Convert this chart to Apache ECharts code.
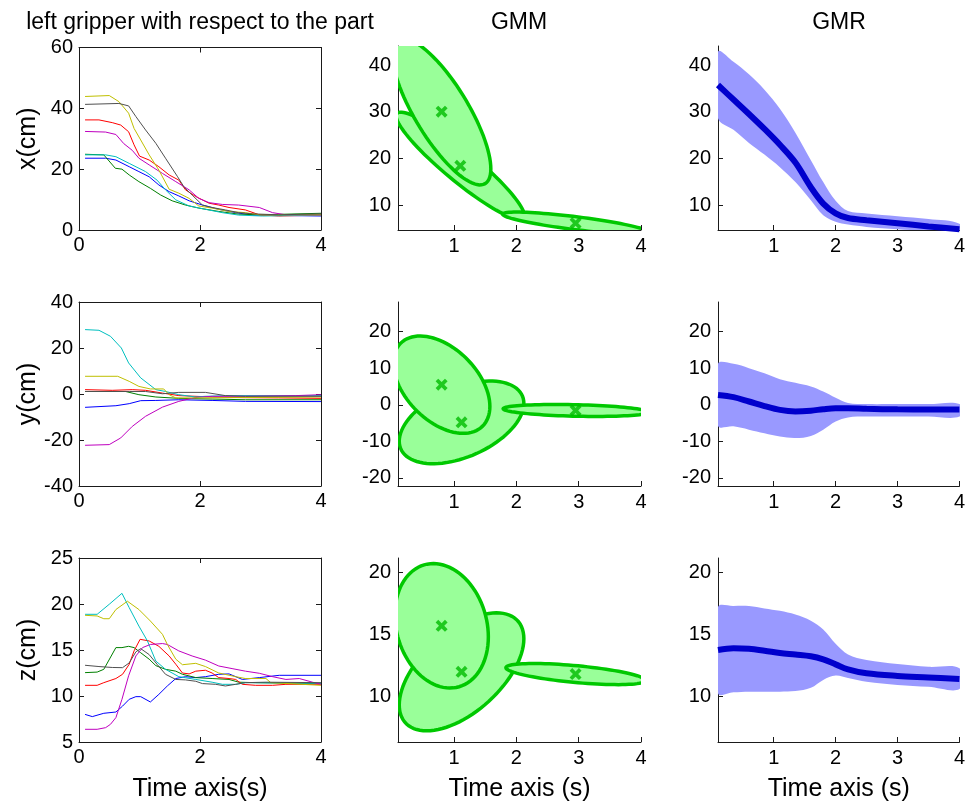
<!DOCTYPE html>
<html>
<head>
<meta charset="utf-8">
<script src="https://cdn.jsdelivr.net/npm/echarts@6/dist/echarts.min.js"></script>
<style>
html, body { margin: 0; padding: 0; background: #fff; }
#main { width: 968px; height: 810px; }
</style>
</head>
<body>
<div id="main"></div>
<script>
// ---- demonstrations (left column), [t, value] pairs ----
var xBlue = [[0.1,23.6],[0.44,23.6],[0.61,23.0],[0.83,20.8],[0.99,19.2],[1.16,17.5],[1.32,14.8],[1.49,12.6],[1.65,11.2],[1.82,9.6],[2.04,8.2],[2.31,6.8],[2.59,5.7],[2.87,4.9],[4.0,4.6]];
var xGreen = [[0.1,24.9],[0.41,24.7],[0.6,20.3],[0.71,20.0],[0.83,18.1],[0.99,15.9],[1.18,13.7],[1.35,11.5],[1.54,9.6],[1.76,8.2],[1.98,7.2],[2.31,6.1],[2.64,5.2],[3.03,5.0],[4.0,5.5]];
var xRed = [[0.1,36.2],[0.33,36.2],[0.55,35.3],[0.69,34.5],[0.82,32.3],[0.91,28.0],[1.0,24.3],[1.16,23.0],[1.32,20.8],[1.49,18.1],[1.65,16.4],[1.76,13.2],[1.93,11.0],[2.15,8.8],[2.31,8.2],[2.48,7.4],[2.75,6.6],[2.98,5.0],[3.3,4.6],[4.0,4.9]];
var xCyan = [[0.1,24.7],[0.44,24.7],[0.61,24.1],[0.83,21.9],[1.1,19.2],[1.29,16.4],[1.43,13.2],[1.6,9.9],[1.82,7.9],[2.09,6.8],[2.37,5.7],[2.64,4.9],[3.03,4.6],[4.0,4.9]];
var xMagenta = [[0.1,32.4],[0.44,32.2],[0.61,31.4],[0.74,28.4],[0.88,26.2],[0.99,23.6],[1.16,21.4],[1.38,18.6],[1.6,15.9],[1.82,13.2],[1.98,10.4],[2.15,9.0],[2.37,8.4],[2.64,8.2],[2.98,7.4],[3.2,5.7],[3.42,5.0],[4.0,5.0]];
var xYellow = [[0.1,43.9],[0.5,44.2],[0.66,42.2],[0.82,38.4],[0.91,33.4],[1.02,29.6],[1.16,24.7],[1.32,19.7],[1.49,13.4],[1.65,12.1],[1.82,10.4],[1.98,7.9],[2.2,7.2],[2.48,6.1],[2.75,5.7],[2.98,5.0],[4.0,5.0]];
var xBlack = [[0.1,41.3],[0.66,41.6],[0.82,40.8],[0.94,37.3],[1.1,32.9],[1.27,28.5],[1.43,23.6],[1.63,17.5],[1.74,14.0],[1.87,11.5],[2.04,8.2],[2.2,7.4],[2.42,6.6],[2.64,5.7],[2.87,5.3],[3.3,5.0],[4.0,5.3]];

var yBlue = [[0.1,-5.8],[0.61,-5.1],[0.83,-4.2],[1.02,-2.9],[1.27,-2.8],[1.65,-2.5],[2.2,-2.8],[2.75,-3.2],[4.0,-3.3]];
var yGreen = [[0.1,1.1],[0.77,1.1],[0.99,-0.3],[1.27,-1.3],[1.65,-1.9],[2.2,-2.2],[2.75,-2.5],[4.0,-2.5]];
var yRed = [[0.1,1.9],[0.55,1.6],[0.88,1.9],[1.1,1.6],[1.38,0.4],[1.65,-0.7],[2.2,-1.3],[2.75,-1.6],[3.3,-1.7],[4.0,-1.9]];
var yCyan = [[0.1,28.0],[0.33,27.7],[0.52,25.1],[0.7,20.0],[0.82,13.5],[1.02,7.0],[1.27,1.9],[1.43,1.1],[1.65,-0.3],[1.93,-1.3],[2.09,-1.0],[2.48,-0.7],[4.0,-0.7]];
var yMagenta = [[0.1,-22.3],[0.5,-22.0],[0.69,-19.1],[0.88,-14.1],[1.1,-9.7],[1.38,-5.7],[1.65,-3.2],[1.93,-1.5],[2.2,-1.0],[2.75,-1.0],[3.58,-0.7],[4.0,-0.3]];
var yYellow = [[0.1,7.7],[0.64,7.7],[0.83,5.5],[0.99,3.3],[1.18,2.2],[1.4,2.2],[1.49,-0.3],[1.6,-1.7],[1.93,-1.7],[4.0,-1.3]];
var yBlack = [[0.1,1.1],[0.83,1.1],[1.1,1.1],[1.38,0.1],[1.65,0.7],[2.09,0.7],[2.42,-0.7],[2.75,-1.0],[4.0,-1.0]];

var zBlue = [[0.1,8.0],[0.22,7.76],[0.41,8.12],[0.61,8.26],[0.72,8.9],[0.83,9.64],[0.94,9.93],[1.02,9.93],[1.18,9.35],[1.32,10.18],[1.46,11.09],[1.6,11.9],[1.76,12.1],[1.93,12.0],[2.09,12.1],[2.31,12.36],[2.48,12.4],[2.7,11.8],[2.98,12.0],[3.31,12.25],[4.0,12.25]];
var zGreen = [[0.1,12.54],[0.3,12.6],[0.41,12.9],[0.61,15.26],[0.71,15.26],[0.82,15.4],[0.91,15.26],[1.02,14.7],[1.16,14.0],[1.27,13.3],[1.43,12.9],[1.6,12.7],[1.71,12.36],[1.93,12.0],[2.2,11.9],[2.48,11.8],[2.64,11.5],[2.92,11.45],[4.0,11.35]];
var zRed = [[0.1,11.16],[0.3,11.16],[0.41,11.45],[0.61,11.9],[0.72,12.36],[0.83,13.45],[0.91,14.9],[1.01,16.16],[1.16,15.98],[1.32,15.4],[1.49,14.35],[1.6,13.45],[1.71,12.5],[1.82,12.4],[1.93,12.7],[2.09,12.8],[2.2,12.5],[2.31,12.0],[2.48,11.9],[2.59,11.8],[2.7,11.27],[2.92,11.16],[3.2,11.16],[3.42,11.27],[4.0,11.27]];
var zCyan = [[0.1,18.88],[0.3,18.88],[0.5,19.97],[0.71,21.16],[0.83,19.6],[0.99,17.6],[1.13,16.0],[1.27,13.8],[1.43,12.9],[1.65,12.1],[1.93,11.8],[2.2,11.5],[2.37,11.27],[2.59,11.27],[2.75,11.45],[4.0,11.38]];
var zMagenta = [[0.1,6.38],[0.3,6.38],[0.44,6.56],[0.52,6.92],[0.61,7.65],[0.71,9.64],[0.82,12.2],[0.94,14.35],[1.05,15.26],[1.18,15.6],[1.38,15.7],[1.46,15.6],[1.65,14.9],[1.87,14.35],[2.09,13.9],[2.31,13.26],[2.53,12.98],[2.75,12.7],[2.98,12.47],[3.2,12.1],[3.42,11.8],[3.64,11.9],[3.86,11.5],[4.0,11.27]];
var zYellow = [[0.1,18.77],[0.3,18.7],[0.41,18.4],[0.5,18.4],[0.61,19.4],[0.8,20.3],[0.99,19.4],[1.18,18.15],[1.38,16.7],[1.46,15.6],[1.6,14.0],[1.71,13.4],[1.93,13.55],[2.09,13.2],[2.31,12.5],[2.59,12.1],[2.75,11.9],[3.09,11.9],[3.17,11.45],[4.0,11.16]];
var zBlack = [[0.1,13.34],[0.33,13.2],[0.55,13.1],[0.72,13.08],[0.83,13.6],[0.94,14.8],[1.02,15.15],[1.16,14.5],[1.29,13.45],[1.43,12.36],[1.6,11.8],[1.76,11.75],[1.93,11.6],[2.04,11.35],[2.26,11.27],[2.42,11.09],[2.59,11.27],[2.75,11.45],[3.09,11.5],[4.0,11.45]];

var demoColors = ['#0000ff', '#008000', '#ff0000', '#00bfbf', '#bf00bf', '#bfbf00', '#505050'];

// ---- GMM: means [t, value] and covariances [s_tt, s_tv, s_vv] ----
var gmmMuX = [[0.8, 30.0], [1.1, 18.4], [2.95, 6.1]];
var gmmCovX = [[0.624, -9.69, 246.5], [1.06, -11.0, 132.3], [1.369, -2.25, 5.65]];
var gmmMuY = [[0.8, 5.5], [1.12, -4.8], [2.95, -1.55]];
var gmmCovY = [[0.6, -4.6, 177], [1.0, 5.16, 127.7], [1.35, -0.53, 2.69]];
var gmmMuZ = [[0.8, 15.7], [1.12, 12.0], [2.95, 11.82]];
var gmmCovZ = [[0.5625, -0.665, 25], [1.0, 2.66, 22.5], [1.25, -0.57, 0.72]];
var gmmDrawOrder = [1, 0, 2];

// ---- GMR: mean and envelope ----
var tGmr = [0.1, 0.35, 0.6, 0.85, 1.1, 1.35, 1.6, 1.8, 2.0, 2.2, 2.5, 3.0, 3.5, 4.0];
var gmrMeanX = [35.7, 32.6, 29.5, 26.3, 22.9, 19.1, 13.8, 10.3, 8.2, 7.2, 6.75, 6.1, 5.4, 4.8];
var gmrUpX = [42.85, 40.7, 38.0, 34.7, 30.6, 25.5, 19.6, 14.9, 10.9, 8.7, 8.2, 7.6, 7.0, 6.0];
var gmrLowX = [28.6, 26.1, 23.3, 20.8, 18.1, 14.9, 11.0, 7.8, 6.4, 5.8, 5.3, 4.8, 4.4, 3.8];
var gmrMeanY = [2.7, 2.1, 0.9, -0.35, -1.4, -1.8, -1.6, -1.2, -0.95, -0.95, -1.1, -1.25, -1.3, -1.3];
var gmrUpY = [11.2, 11.2, 10.0, 8.6, 7.0, 6.0, 5.0, 3.6, 1.9, 0.5, 0.2, 0.2, 0.2, 0.2];
var gmrLowY = [-5.7, -5.9, -6.8, -7.8, -8.7, -9.1, -8.5, -6.8, -4.6, -3.45, -3.2, -3.2, -3.2, -3.2];
var gmrMeanZ = [13.75, 13.89, 13.85, 13.7, 13.52, 13.39, 13.25, 13.0, 12.6, 12.2, 11.88, 11.67, 11.55, 11.42];
var gmrUpZ = [17.2, 17.3, 17.3, 17.1, 16.9, 16.6, 16.1, 15.4, 14.25, 13.4, 12.95, 12.63, 12.4, 12.28];
var gmrLowZ = [10.27, 10.35, 10.4, 10.4, 10.4, 10.45, 10.72, 11.35, 11.7, 11.5, 11.2, 10.95, 10.8, 10.62];

// ---- axes ticks ----
var demoTicks = [[0, 60, 20], [-40, 40, 20], [5, 25, 5]];
var modelRange = [[4.64, 44.07], [-22.2, 28.1], [6.36, 21.15]];
var modelTicksY = [[10, 20, 30, 40], [-20, -10, 0, 10, 20], [10, 15, 20]];
var modelTicksT = [1, 2, 3, 4];
var rowNames = ['x(cm)', 'y(cm)', 'z(cm)'];

var FONT = '"Liberation Sans", Arial, Helvetica, sans-serif';
var demoRows = [[xBlue, xGreen, xRed, xCyan, xMagenta, xYellow, xBlack],
                [yBlue, yGreen, yRed, yCyan, yMagenta, yYellow, yBlack],
                [zBlue, zGreen, zRed, zCyan, zMagenta, zYellow, zBlack]];
var gmmMu = [gmmMuX, gmmMuY, gmmMuZ];
var gmmCov = [gmmCovX, gmmCovY, gmmCovZ];
var gmrMean = [gmrMeanX, gmrMeanY, gmrMeanZ];
var gmrUp = [gmrUpX, gmrUpY, gmrUpZ];
var gmrLow = [gmrLowX, gmrLowY, gmrLowZ];

var colLeft = [79, 398, 718];
var colWidth = [242, 243, 243];
var rowTop = [46, 302, 558];
var rowH = 184;

var grids = [], xAxes = [], yAxes = [], series = [];

function axisStyle(show) {
    return {
        axisLine: { show: true, onZero: false, lineStyle: { color: '#1a1a1a', width: 1 } },
        axisTick: { show: true, inside: true, length: 5, lineStyle: { color: '#1a1a1a' } },
        axisLabel: { show: show, color: '#000', fontSize: 20, fontFamily: FONT },
        splitLine: { show: false }
    };
}
function addAxis(list, opt, show) {
    var a = Object.assign({ type: 'value' }, axisStyle(show), opt);
    list.push(a);
    return list.length - 1;
}
var nameStyle = { color: '#000', fontSize: 25, fontFamily: FONT };

// thick "x" marker for the GMM centres
var crossPath = 'path://M0,2.2L2.2,0L5,2.8L7.8,0L10,2.2L7.2,5L10,7.8L7.8,10L5,7.2L2.2,10L0,7.8L2.8,5Z';

for (var r = 0; r < 3; r++) {
    // column 1: demonstrations, boxed axes
    var g = grids.length;
    grids.push({ left: colLeft[0], top: r === 0 ? 47.5 : rowTop[r], width: colWidth[0], height: r === 0 ? 182.5 : rowH });
    var xi = addAxis(xAxes, { gridIndex: g, position: 'bottom', min: 0, max: 4, interval: 2,
        name: r === 2 ? 'Time axis(s)' : '', nameLocation: 'middle', nameGap: 35, nameTextStyle: nameStyle }, true);
    xAxes[xi].axisLabel.margin = 5;
    addAxis(xAxes, { gridIndex: g, position: 'top', min: 0, max: 4, interval: 2 }, false);
    var yi = addAxis(yAxes, { gridIndex: g, position: 'left', min: demoTicks[r][0], max: demoTicks[r][1], interval: demoTicks[r][2],
        name: rowNames[r], nameLocation: 'middle', nameGap: 38, nameTextStyle: nameStyle }, true);
    yAxes[yi].axisLabel.margin = 6;
    addAxis(yAxes, { gridIndex: g, position: 'right', min: demoTicks[r][0], max: demoTicks[r][1], interval: demoTicks[r][2] }, false);
    demoRows[r].forEach(function (d, k) {
        series.push({ type: 'line', xAxisIndex: xi, yAxisIndex: yi, data: d, symbol: 'none',
            lineStyle: { color: demoColors[k], width: 1 }, itemStyle: { color: demoColors[k] }, silent: true });
    });

    // column 2 and 3 axes
    var mIdx = [];
    for (var c = 1; c < 3; c++) {
        var gg = grids.length;
        grids.push({ left: colLeft[c], top: rowTop[r], width: colWidth[c], height: rowH });
        var mx = addAxis(xAxes, { gridIndex: gg, position: 'bottom', min: 0.1, max: 4,
            name: r === 2 ? 'Time axis (s)' : '', nameLocation: 'middle', nameGap: 35, nameTextStyle: nameStyle }, true);
        xAxes[mx].axisTick.customValues = modelTicksT;
        xAxes[mx].axisLabel.customValues = modelTicksT;
        xAxes[mx].axisLabel.margin = 6;
        var my = addAxis(yAxes, { gridIndex: gg, position: 'left', min: modelRange[r][0], max: modelRange[r][1] }, true);
        yAxes[my].axisTick.customValues = modelTicksY[r];
        yAxes[my].axisLabel.customValues = modelTicksY[r];
        yAxes[my].axisLabel.margin = 7;
        mIdx.push([mx, my]);
    }

    // GMM ellipses
    (function (mu, cov, ax) {
        series.push({
            type: 'custom', xAxisIndex: ax[0], yAxisIndex: ax[1], clip: true, silent: true,
            data: gmmDrawOrder.map(function (k) { return [mu[k][0], mu[k][1], k]; }),
            renderItem: function (params, api) {
                var k = api.value(2), m = mu[k], s = cov[k];
                var a = Math.sqrt(s[0]), b = s[1] / a, d = Math.sqrt(s[2] - b * b);
                var pts = [];
                for (var i = 0; i < 90; i++) {
                    var th = i / 90 * 2 * Math.PI;
                    pts.push(api.coord([m[0] + a * Math.cos(th), m[1] + b * Math.cos(th) + d * Math.sin(th)]));
                }
                return { type: 'polygon', shape: { points: pts },
                    style: { fill: '#99ff99', stroke: '#00c800', lineWidth: 3.5 } };
            },
            z: 2
        });
        series.push({ type: 'scatter', xAxisIndex: ax[0], yAxisIndex: ax[1], data: mu, symbol: crossPath,
            symbolSize: 12, itemStyle: { color: '#00bb00' }, silent: true, z: 3 });
    })(gmmMu[r], gmmCov[r], mIdx[0]);

    // GMR envelope and mean
    (function (mean, up, low, ax) {
        series.push({
            type: 'custom', xAxisIndex: ax[0], yAxisIndex: ax[1], clip: true, silent: true,
            data: [[tGmr[0], mean[0]]],
            renderItem: function (params, api) {
                var pts = [];
                for (var i = 0; i < tGmr.length; i++) pts.push(api.coord([tGmr[i], up[i]]));
                for (var j = tGmr.length - 1; j >= 0; j--) pts.push(api.coord([tGmr[j], low[j]]));
                return { type: 'polygon', shape: { points: pts, smooth: 0.35 },
                    style: { fill: '#9999ff', stroke: null } };
            },
            z: 2
        });
        series.push({ type: 'line', xAxisIndex: ax[0], yAxisIndex: ax[1], smooth: 0.35, symbol: 'none', silent: true,
            data: tGmr.map(function (t, i) { return [t, mean[i]]; }),
            lineStyle: { color: '#0000cc', width: 6 }, itemStyle: { color: '#0000cc' }, z: 3 });
    })(gmrMean[r], gmrUp[r], gmrLow[r], mIdx[1]);
}

function label(text, x) {
    return { type: 'text', x: x, y: 23, silent: true,
        style: { text: text, font: '23px ' + FONT, fill: '#000',
            textAlign: 'center', align: 'center', textVerticalAlign: 'middle', verticalAlign: 'middle' } };
}

var myChart = echarts.init(document.getElementById('main'));
myChart.setOption({
    backgroundColor: '#fff',
    animation: false,
    grid: grids,
    xAxis: xAxes,
    yAxis: yAxes,
    series: series,
    graphic: [label('left gripper with respect to the part', 200), label('GMM', 519), label('GMR', 839)]
});
</script>
</body>
</html>
